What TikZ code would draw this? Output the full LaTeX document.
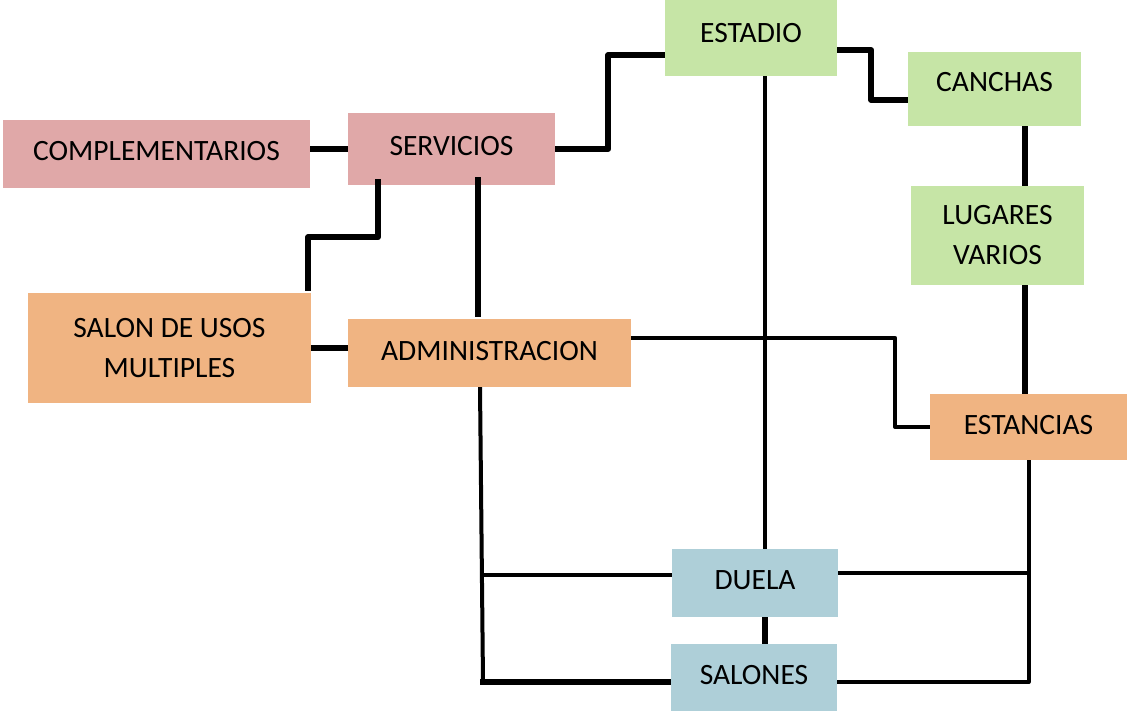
\documentclass[tikz,border=0pt]{standalone}
\usepackage{fontspec}
\setmainfont{Carlito}
\usetikzlibrary{calc}
\definecolor{cgreen}{RGB}{198,229,166}
\definecolor{cpink}{RGB}{224,168,168}
\definecolor{corange}{RGB}{240,180,130}
\definecolor{cblue}{RGB}{174,207,216}
\begin{document}
\begin{tikzpicture}[x=1pt,y=-1pt,
  box/.style={inner sep=0pt, align=center, font=\fontsize{29.5}{40}\selectfont},
  liftup/.style={text height=19pt, text depth=#1},
  thk/.style={line width=6pt, line join=round, line cap=butt},
  thn/.style={line width=4pt, line join=round, line cap=butt}]
\useasboundingbox (0,0) rectangle (1127,711);
\fill[white] (0,0) rectangle (1127,711);
% nodes
\node[box, liftup=10pt, fill=cgreen, minimum width=172pt, minimum height=76pt] (estadio) at (751,38) {ESTADIO};
\node[box, liftup=14pt, fill=cgreen, minimum width=173pt, minimum height=74pt] (canchas) at (994.5,89) {CANCHAS};
\node[box, fill=cgreen, minimum width=173pt, minimum height=99pt] (lugares) at (997.5,235.5) {LUGARES\\VARIOS};
\node[box, liftup=4pt, fill=corange, minimum width=197pt, minimum height=66pt] (estancias) at (1028.5,427) {ESTANCIAS};
\node[box, liftup=6pt, fill=cpink, minimum width=307pt, minimum height=68pt] (comp) at (156.5,154) {COMPLEMENTARIOS};
\node[box, liftup=6pt, fill=cpink, minimum width=207pt, minimum height=72pt] (serv) at (451.5,149) {SERVICIOS};
\node[box, fill=corange, minimum width=283pt, minimum height=109pt] (salon) at (169.5,348) {SALON DE USOS\\MULTIPLES};
\node[box, liftup=4pt, fill=corange, minimum width=283pt, minimum height=68pt] (admin) at (489.5,353) {ADMINISTRACION};
\node[box, liftup=6pt, fill=cblue, minimum width=166pt, minimum height=68pt] (duela) at (755,583) {DUELA};
\node[box, liftup=5pt, fill=cblue, minimum width=166pt, minimum height=67pt] (salones) at (754,677.5) {SALONES};
% helper coordinates
\coordinate (a1) at (483,682);
\coordinate (a2) at (481.5,575);
\coordinate (e1) at (1028.5,682);
\coordinate (d1) at ($(duela.east)+(0,-10)$);
% connectors
\draw[thk] (serv.west -| comp.east) -- (serv.west);
\draw[thk] (serv.east) -- ++(53,0) |- ($(estadio.west)+(0,17)$);
\draw[thk] ($(estadio.east)+(0,12)$) -- ++(34,0) |- ($(canchas.west)+(0,11)$);
\draw[thk] ($(canchas.south)+(30.5,0)$) -- ($(lugares.north)+(27.5,0)$);
\draw[thk] ($(lugares.south)+(27.5,0)$) -- ($(estancias.north)+(-3.5,0)$);
\draw[thk] ($(serv.south)+(-73.5,-6)$) -- ++(0,58) -- ++(-70,0) -- ($(salon.north)+(138.5,-2)$);
\draw[thk] ($(serv.south)+(26.5,-8)$) -- ($(admin.north)+(-11.5,-2)$);
\draw[thk] (salon.east) -- (salon.east -| admin.west);
\draw[thn] ($(admin.east)+(0,-15)$) -- ++(264,0) |- (estancias.west);
\draw[thn] ($(estadio.south)+(14,0)$) -- ($(duela.north)+(10,0)$);
\draw[thn] ($(admin.south)+(-9.5,0)$) -- (a1);
\draw[thk] ($(a1)+(-3,0)$) -- ($(salones.west)+(0,4.5)$);
\draw[thn] (a2) -- ($(duela.west)+(0,-8)$);
\draw[thk] ($(duela.south)+(10,0)$) -- ($(salones.north)+(11,0)$);
\draw[thn] (estancias.south) -- (e1) -- ($(salones.east)+(0,4.5)$);
\draw[thn] (d1) -- (d1 -| e1);
\end{tikzpicture}
\end{document}
